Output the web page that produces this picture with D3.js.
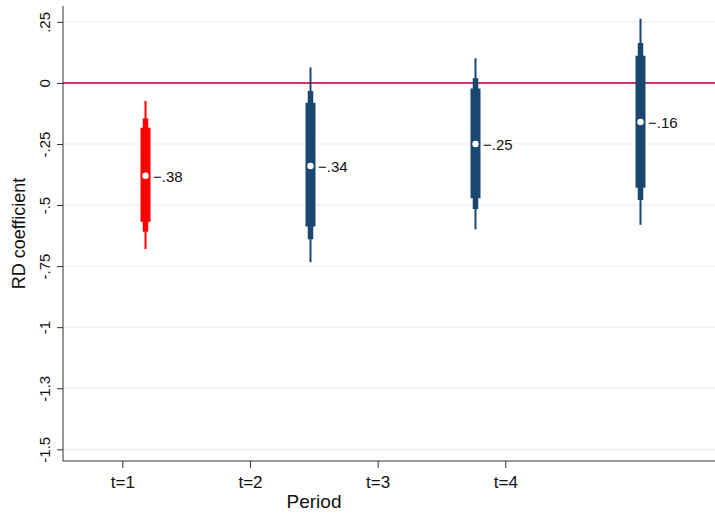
<!DOCTYPE html>
<html>
<head>
<meta charset="utf-8">
<script src="https://cdn.jsdelivr.net/npm/d3@7/dist/d3.min.js"></script>
<style>
  html, body { margin: 0; padding: 0; background: #ffffff; }
  svg { display: block; }
</style>
</head>
<body>
<script>
// Regression-discontinuity coefficients by period, with 90/95/99% intervals
const periods   = ["t=1", "t=2", "t=3", "t=4"];
const periodIdx = [1, 2, 3, 4];
const estimates = [-0.38, -0.34, -0.25, -0.16];
const ci99Lo = [-0.680, -0.734, -0.599, -0.581];
const ci99Hi = [-0.074,  0.064,  0.101,  0.263];
const ci95Lo = [-0.609, -0.640, -0.516, -0.479];
const ci95Hi = [-0.145, -0.033,  0.019,  0.163];
const ci90Lo = [-0.568, -0.588, -0.472, -0.429];
const ci90Hi = [-0.183, -0.081, -0.023,  0.111];
const highlight = [true, false, false, false];

const yTickValues = [0.25, 0, -0.25, -0.5, -0.75, -1, -1.25, -1.5];
const yTickLabels = [".25", "0", "-.25", "-.5", "-.75", "-1", "-1.3", "-1.5"];

const W = 715, H = 516;
const plot = { left: 63, right: 715, top: 6, bottom: 461 };

const svg = d3.select("body").append("svg")
  .attr("width", W).attr("height", H);
svg.append("rect").attr("width", W).attr("height", H).attr("fill", "#ffffff");

const y = d3.scaleLinear().domain([-1.548, 0.315]).range([plot.bottom, plot.top]);
// position of the coefficient markers
const xMark = d3.scaleLinear().domain([0.5, 4.5]).range([63, 723]);
// position of the period tick labels
const xAxisScale = d3.scaleLinear().domain([0.5355, 5.6425]).range([plot.left, plot.right]);

const navy = "#1a476f", red = "#ff0000";

// gridlines
svg.append("g").selectAll("line")
  .data(yTickValues.filter(v => v !== 0))
  .join("line")
  .attr("x1", plot.left).attr("x2", plot.right)
  .attr("y1", d => y(d)).attr("y2", d => y(d))
  .attr("stroke", "#e9f0f2").attr("stroke-width", 1.2);

// reference line at zero
svg.append("line")
  .attr("x1", plot.left).attr("x2", plot.right)
  .attr("y1", y(0)).attr("y2", y(0))
  .attr("stroke", "#d4325e").attr("stroke-width", 2);

// y axis
const yAxis = d3.axisLeft(y)
  .tickValues(yTickValues)
  .tickFormat((d, i) => yTickLabels[i])
  .tickSize(6).tickSizeOuter(0);
const gy = svg.append("g").attr("transform", `translate(${plot.left},0)`).call(yAxis);
gy.select(".domain").attr("stroke", "#333").attr("d", `M0,${plot.top}V${plot.bottom}`);
gy.selectAll(".tick line").attr("stroke", "#333");
gy.selectAll(".tick text")
  .attr("x", 0).attr("y", 0).attr("dy", 0)
  .attr("transform", "translate(-13,0) rotate(-90)")
  .attr("text-anchor", "middle")
  .attr("font-family", "'Liberation Sans', Arial, sans-serif")
  .attr("font-size", 15).attr("fill", "#111");

// x axis
const xAxis = d3.axisBottom(xAxisScale)
  .tickValues(periodIdx)
  .tickFormat((d, i) => periods[i])
  .tickSize(7).tickSizeOuter(0);
const gx = svg.append("g").attr("transform", `translate(0,${plot.bottom})`).call(xAxis);
gx.select(".domain").attr("stroke", "#333").attr("d", `M${plot.left},0H${plot.right}`);
gx.selectAll(".tick line").attr("stroke", "#333");
gx.selectAll(".tick text")
  .attr("y", 27).attr("dy", 0)
  .attr("font-family", "'Liberation Sans Narrow', 'Liberation Sans', Arial, sans-serif")
  .attr("font-size", 17).attr("fill", "#111");

// axis titles
svg.append("text")
  .attr("x", 314).attr("y", 508)
  .attr("text-anchor", "middle")
  .attr("font-family", "'Liberation Sans Narrow', 'Liberation Sans', Arial, sans-serif")
  .attr("font-size", 19).attr("fill", "#111")
  .text("Period");
svg.append("text")
  .attr("transform", `translate(25,${(plot.top + plot.bottom) / 2}) rotate(-90)`)
  .attr("text-anchor", "middle")
  .attr("font-family", "'Liberation Sans', Arial, sans-serif")
  .attr("font-size", 18).attr("fill", "#111")
  .text("RD coefficient");

// coefficient markers
const rows = periodIdx.map((p, i) => ({
  p, est: estimates[i],
  lo99: ci99Lo[i], hi99: ci99Hi[i],
  lo95: ci95Lo[i], hi95: ci95Hi[i],
  lo90: ci90Lo[i], hi90: ci90Hi[i],
  color: highlight[i] ? red : navy
}));

const g = svg.append("g").selectAll("g").data(rows).join("g");
const bands = [
  { lo: "lo99", hi: "hi99", w: 2 },
  { lo: "lo95", hi: "hi95", w: 5.5 },
  { lo: "lo90", hi: "hi90", w: 10 }
];
bands.forEach(b => {
  g.append("line")
    .attr("x1", d => xMark(d.p)).attr("x2", d => xMark(d.p))
    .attr("y1", d => y(d[b.hi])).attr("y2", d => y(d[b.lo]))
    .attr("stroke", d => d.color).attr("stroke-width", b.w);
});
g.append("circle")
  .attr("cx", d => xMark(d.p)).attr("cy", d => y(d.est))
  .attr("r", 3.2).attr("fill", "#ffffff");
const fmt = d3.format(".2f");
g.append("text")
  .attr("x", d => xMark(d.p) + 7.5).attr("y", d => y(d.est) + 6)
  .attr("font-family", "'Liberation Sans', Arial, sans-serif")
  .attr("font-size", 15).attr("fill", "#111")
  .text(d => fmt(d.est).replace("0.", "."));
</script>
</body>
</html>
